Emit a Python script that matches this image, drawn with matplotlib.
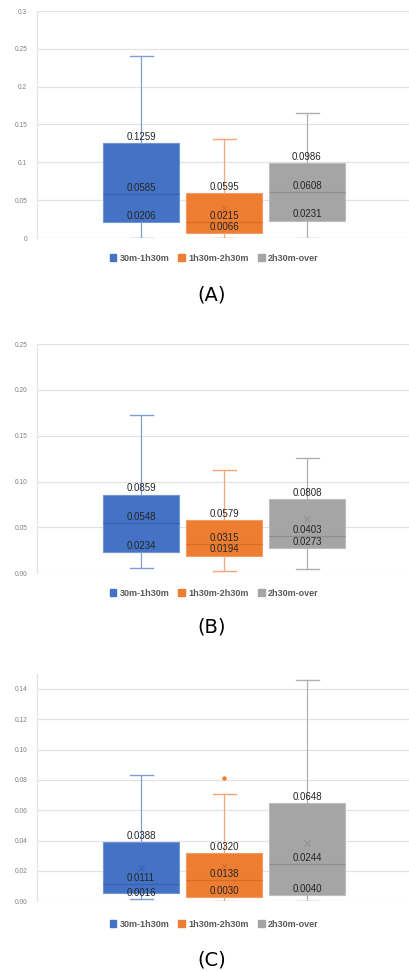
import matplotlib
matplotlib.use("Agg")
import matplotlib.pyplot as plt
from matplotlib.patches import Patch

# ---------------- data ----------------
series = ["30m-1h30m", "1h30m-2h30m", "2h30m-over"]
panel_names = ["(A)", "(B)", "(C)"]

# panel A
a_min = [0.0, 0.0, 0.0]
a_q1 = [0.0206, 0.0066, 0.0231]
a_med = [0.0585, 0.0215, 0.0608]
a_q3 = [0.1259, 0.0595, 0.0986]
a_max = [0.240, 0.1308, 0.1656]
a_mean = [None, 0.0392, None]
a_fliers = [[], [], []]
a_labels = [[0.1259, 0.0585, 0.0206], [0.0595, 0.0215, 0.0066], [0.0986, 0.0608, 0.0231]]

# panel B
b_min = [0.0055, 0.0022, 0.0044]
b_q1 = [0.0234, 0.0194, 0.0273]
b_med = [0.0548, 0.0315, 0.0403]
b_q3 = [0.0859, 0.0579, 0.0808]
b_max = [0.173, 0.1126, 0.1254]
b_mean = [None, 0.0436, 0.0592]
b_fliers = [[], [], []]
b_labels = [[0.0859, 0.0548, 0.0234], [0.0579, 0.0315, 0.0194], [0.0808, 0.0403, 0.0273]]

# panel C
c_min = [0.0015, 0.0, 0.0]
c_q1 = [0.0055, 0.0030, 0.0040]
c_med = [0.0111, 0.0138, 0.0244]
c_q3 = [0.0388, 0.0320, 0.0648]
c_max = [0.0833, 0.0708, 0.1462]
c_mean = [0.0218, 0.0233, 0.0382]
c_fliers = [[], [0.0815], []]
c_labels = [[0.0388, 0.0111, 0.0016], [0.0320, 0.0138, 0.0030], [0.0648, 0.0244, 0.0040]]

a_ticks = [0, 0.05, 0.1, 0.15, 0.2, 0.25, 0.3]
a_ticklabels = ["0", "0.05", "0.1", "0.15", "0.2", "0.25", "0.3"]
b_ticks = [0.0, 0.05, 0.10, 0.15, 0.20, 0.25]
b_ticklabels = ["0.00", "0.05", "0.10", "0.15", "0.20", "0.25"]
c_ticks = [0.0, 0.02, 0.04, 0.06, 0.08, 0.10, 0.12, 0.14]
c_ticklabels = ["0.00", "0.02", "0.04", "0.06", "0.08", "0.10", "0.12", "0.14"]

# ---------------- styles ----------------
fills = ["#4472C4", "#ED7D31", "#A5A5A5"]
edges = ["#7196D6", "#F29C62", "#BDBDBD"]
medc = ["#3762B0", "#D86C22", "#8E8E8E"]
whisk = ["#7F9FD9", "#F2A775", "#B0B0B0"]
meanc = ["#2F559C", "#C7622A", "#7F7F7F"]

W, H = 409, 972
fig = plt.figure(figsize=(W / 100, H / 100), dpi=100)
fig.patch.set_facecolor("white")

panels = [
    dict(mn=a_min, q1=a_q1, med=a_med, q3=a_q3, mx=a_max, mean=a_mean, fl=a_fliers,
         lab=a_labels, ticks=a_ticks, tl=a_ticklabels, ylim=(0, 0.3), top=11, bot=238,
         leg=258, name=295, topgrid=True),
    dict(mn=b_min, q1=b_q1, med=b_med, q3=b_q3, mx=b_max, mean=b_mean, fl=b_fliers,
         lab=b_labels, ticks=b_ticks, tl=b_ticklabels, ylim=(0, 0.25), top=344, bot=573.3,
         leg=593, name=627, topgrid=True),
    dict(mn=c_min, q1=c_q1, med=c_med, q3=c_q3, mx=c_max, mean=c_mean, fl=c_fliers,
         lab=c_labels, ticks=c_ticks, tl=c_ticklabels, ylim=(0, 0.15), top=673.8, bot=901.3,
         leg=924, name=960, topgrid=False),
]

left_px, right_px = 37, 409
spacing_px = 83.0
first_center_px = 141.0
positions = [0, 1, 2]
box_w = 76 / spacing_px
cap_w = 23 / spacing_px

for idx, p in enumerate(panels):
    ax = fig.add_axes([left_px / W, (H - p["bot"]) / H, (right_px - left_px) / W,
                       (p["bot"] - p["top"]) / H])
    ax.set_xlim(-(first_center_px - left_px) / spacing_px,
                2 + (right_px - (first_center_px + 2 * spacing_px)) / spacing_px)
    ax.set_ylim(*p["ylim"])
    for v in p["ticks"]:
        if v == p["ylim"][1] and not p["topgrid"]:
            continue
        ax.axhline(v, color="#E3E3E3", lw=0.9, zorder=0)
    for i in range(3):
        st = dict(whislo=p["mn"][i], q1=p["q1"][i], med=p["med"][i], q3=p["q3"][i],
                  whishi=p["mx"][i], fliers=p["fl"][i])
        ax.bxp([st], positions=[positions[i]], widths=box_w, capwidths=[cap_w],
               patch_artist=True, showfliers=True,
               boxprops=dict(facecolor=fills[i], edgecolor=edges[i], lw=0.8),
               medianprops=dict(color=medc[i], lw=0.9),
               whiskerprops=dict(color=whisk[i], lw=0.9),
               capprops=dict(color=whisk[i], lw=1.0),
               flierprops=dict(marker="o", markersize=2.2, markerfacecolor=fills[i],
                               markeredgecolor=fills[i]),
               zorder=2)
        if p["mean"][i] is not None:
            ax.plot([positions[i]], [p["mean"][i]], marker="x", ms=4, mew=0.7,
                    color=meanc[i], ls="none", zorder=3, alpha=0.6)
        for v in p["lab"][i]:
            ax.annotate(f"{v:.4f}", xy=(positions[i], v), xytext=(0, 0.8),
                        textcoords="offset points", ha="center", va="bottom",
                        fontsize=7.0, family="Liberation Sans", color="#262626", zorder=4)
    ax.set_yticks(p["ticks"])
    ax.set_yticklabels(p["tl"], fontsize=4.8, color="#7F7F7F", family="Liberation Sans")
    ax.set_xticks([])
    ax.tick_params(axis="y", length=0, pad=7)
    for s in ["top", "right", "bottom"]:
        ax.spines[s].set_visible(False)
    ax.spines["left"].set_color("#E3E3E3")
    ax.spines["left"].set_linewidth(0.9)

    handles = [Patch(facecolor=fills[k], edgecolor=fills[k]) for k in range(3)]
    fig.legend(handles, series, loc="center", bbox_to_anchor=(214 / W, 1 - p["leg"] / H),
               ncol=3, frameon=False, handlelength=0.75, handleheight=0.75,
               handletextpad=0.35, columnspacing=1.0,
               prop=dict(size=6.5, weight="bold", family="Liberation Sans"),
               labelcolor="#595959")
    fig.text(212 / W, 1 - p["name"] / H, panel_names[idx], ha="center",
             va="center", fontsize=14, color="black", family="DejaVu Sans")

fig.savefig("out.png", dpi=100, facecolor="white")
